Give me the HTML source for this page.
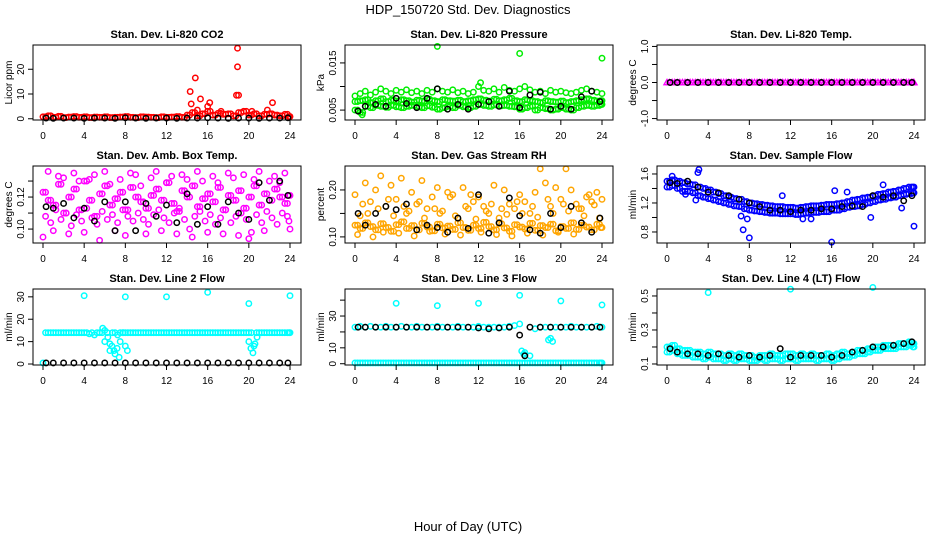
<!DOCTYPE html>
<html><head><meta charset="utf-8"><style>
body{margin:0;background:#fff;}
svg{display:block;font-family:"Liberation Sans",sans-serif;}
</style></head><body>
<svg id="c" width="936" height="540">
<text x="468" y="14" text-anchor="middle" font-size="13">HDP_150720  Std. Dev. Diagnostics</text>
<text x="468" y="531" text-anchor="middle" font-size="13">Hour of Day (UTC)</text>
</svg>
<script>
const H=[0,0.5,1,1.5,2,2.5,3,3.5,4,4.5,5,5.5,6,6.5,7,7.5,8,8.5,9,9.5,10,10.5,11,11.5,12,12.5,13,13.5,14,14.5,15,15.5,16,16.5,17,17.5,18,18.5,19,19.5,20,20.5,21,21.5,22,22.5,23,23.5,24];
const H2=[0.25,0.75,1.25,1.75,2.25,2.75,3.25,3.75,4.25,4.75,5.25,5.75,6.25,6.75,7.25,7.75,8.25,8.75,9.25,9.75,10.25,10.75,11.25,11.75,12.25,12.75,13.25,13.75,14.25,14.75,15.25,15.75,16.25,16.75,17.25,17.75,18.25,18.75,19.25,19.75,20.25,20.75,21.25,21.75,22.25,22.75,23.25,23.75,23.9];
const H1=[0.3,1,2,3,4,5,6,7,8,9,10,11,12,13,14,15,16,17,18,19,20,21,22,23,23.8];
const xTicks=[0,4,8,12,16,20,24];

const co2Red=[0.8,1.2,0.6,1.0,0.5,0.7,0.9,0.6,0.8,0.5,0.7,0.6,0.8,0.5,0.6,0.7,0.9,0.6,0.5,0.8,0.7,0.6,0.5,0.8,0.6,0.7,0.9,0.6,1.5,2.5,1.2,2.0,3.0,1.5,2.2,1.8,2.0,1.2,2.5,3.0,1.5,2.0,1.2,1.8,2.0,1.5,1.2,1.8,0.9];
const co2OutH=[14.3,14.4,14.8,15.0,15.3,16.0,16.2,17.3,18.8,18.9,18.9,19.0,20.3,21.8,22.3];
const co2OutV=[11,6,16.5,3.5,8,5,6.5,3,9.5,28.5,21,9.5,3,3.5,6.5];
const co2Black=[0.3,0.2,0.3,0.3,0.2,0.3,0.3,0.2,0.4,0.3,0.2,0.3,0.3,0.2,0.3,0.3,0.4,0.3,0.2,0.3,0.3,0.2,0.3,0.3,0.4];

const presUp=[.0080,.0085,.0090,.0082,.0088,.0095,.0090,.0085,.0092,.0088,.0093,.0087,.0090,.0085,.0092,.0088,.0095,.0090,.0088,.0093,.0087,.0090,.0085,.0088,.0100,.0092,.0090,.0095,.0088,.0098,.0092,.0090,.0095,.0100,.0093,.0088,.0090,.0085,.0092,.0088,.0090,.0087,.0085,.0088,.0092,.0095,.0090,.0088,.0085];
const presMid=[.0068,.0070,.0072,.0066,.0070,.0074,.0068,.0071,.0069,.0072,.0070,.0067,.0071,.0069,.0073,.0070,.0068,.0072,.0070,.0069,.0071,.0068,.0070,.0072,.0074,.0071,.0069,.0073,.0070,.0072,.0075,.0070,.0068,.0072,.0070,.0068,.0066,.0070,.0068,.0067,.0069,.0066,.0068,.0070,.0072,.0074,.0071,.0069,.0070];
const presLow=[.0050,.0045,.0058,.0055,.0060,.0058,.0056,.0060,.0057,.0055,.0058,.0060,.0057,.0055,.0059,.0056,.0052,.0055,.0058,.0055,.0060,.0057,.0055,.0058,.0062,.0060,.0058,.0061,.0059,.0060,.0058,.0057,.0052,.0055,.0058,.0050,.0055,.0053,.0050,.0052,.0055,.0052,.0050,.0055,.0058,.0060,.0058,.0060,.0062];
const presOutH=[0.7,8,12.2,16,24];
const presOutV=[.0040,.0185,.0108,.0170,.0160];
const presBlack=[.0048,.0058,.0062,.0058,.0075,.0064,.0055,.0075,.0095,.0052,.0062,.0052,.0062,.0068,.0058,.0090,.0055,.0082,.0088,.0052,.0058,.0052,.0078,.0090,.0068];

const tempMag=[0,0,0,0,0,0,0,0,0,0,0,0,0,0,0,0,0,0,0,0,0,0,0,0,0,0,0,0,0,0,0,0,0,0,0,0,0,0,0,0,0,0,0,0,0,0,0,0,0];
const tempBlack=[0,0,0,0,0,0,0,0,0,0,0,0,0,0,0,0,0,0,0,0,0,0,0,0,0];

const btA=[.123,.118,.115,.128,.110,.120,.125,.112,.130,.118,.108,.122,.127,.115,.119,.123,.112,.126,.120,.117,.113,.121,.125,.118,.129,.116,.111,.124,.120,.127,.114,.119,.122,.117,.126,.112,.121,.118,.124,.113,.120,.127,.115,.122,.118,.125,.120,.116,.121];
const btB=[.108,.104,.112,.106,.110,.102,.109,.105,.113,.107,.103,.111,.106,.109,.104,.112,.108,.105,.110,.106,.103,.109,.112,.107,.104,.110,.113,.106,.100,.108,.111,.105,.109,.103,.107,.112,.104,.108,.110,.106,.098,.109,.104,.111,.107,.103,.110,.108,.105];
const btC=[.095,.136,.099,.133,.132,.097,.135,.130,.098,.131,.134,.093,.136,.128,.099,.131,.096,.135,.134,.127,.097,.132,.136,.099,.129,.133,.097,.134,.131,.095,.136,.130,.098,.133,.129,.097,.135,.132,.096,.134,.094,.131,.136,.099,.130,.133,.129,.135,.100];
const btBlack=[.114,.113,.116,.107,.113,.105,.117,.099,.117,.099,.116,.108,.115,.104,.122,.103,.114,.103,.117,.110,.106,.129,.118,.130,.121];

const rhA=[.125,.118,.130,.122,.115,.128,.120,.112,.126,.132,.118,.124,.115,.129,.121,.113,.127,.119,.123,.116,.130,.120,.114,.125,.118,.131,.122,.115,.128,.119,.112,.126,.121,.117,.129,.114,.124,.120,.127,.113,.122,.118,.130,.116,.125,.121,.115,.127,.120];
const rhB=[.105,.170,.150,.100,.160,.110,.180,.145,.108,.165,.155,.102,.175,.140,.112,.160,.150,.106,.185,.145,.104,.165,.190,.138,.110,.155,.170,.105,.160,.148,.102,.175,.150,.108,.165,.142,.104,.180,.150,.110,.170,.155,.106,.160,.145,.190,.168,.140,.120];
const rhC=[.190,.145,.215,.175,.200,.230,.165,.210,.180,.225,.150,.195,.170,.220,.160,.185,.205,.155,.195,.190,.140,.205,.160,.175,.185,.165,.150,.210,.140,.200,.170,.160,.190,.175,.150,.195,.245,.215,.165,.205,.180,.245,.200,.170,.160,.185,.175,.195,.180];
const rhBlack=[.150,.125,.150,.165,.158,.170,.115,.125,.120,.110,.140,.118,.190,.108,.130,.183,.145,.115,.108,.150,.120,.165,.130,.110,.140];

const sfA=[1.50,1.52,1.50,1.48,1.46,1.45,1.42,1.40,1.38,1.35,1.33,1.30,1.28,1.26,1.25,1.22,1.20,1.19,1.18,1.17,1.16,1.15,1.15,1.14,1.14,1.13,1.14,1.15,1.16,1.16,1.17,1.18,1.18,1.19,1.20,1.22,1.24,1.25,1.27,1.28,1.30,1.32,1.33,1.35,1.36,1.38,1.40,1.42,1.42];
const sfB=[1.42,1.44,1.40,1.36,1.36,1.34,1.30,1.28,1.26,1.24,1.22,1.20,1.18,1.16,1.15,1.12,1.10,1.09,1.08,1.07,1.06,1.06,1.05,1.05,1.05,1.04,1.05,1.06,1.07,1.07,1.08,1.08,1.10,1.10,1.12,1.14,1.15,1.16,1.18,1.20,1.22,1.24,1.25,1.27,1.28,1.30,1.32,1.33,1.34];
const sfOutH=[0.5,1.8,3.0,3.1,2.8,7.2,7.4,7.8,8.0,16.0,16.3,17.5,19.8,21.0,22.8,24.0,11.2,13.2,14.0];
const sfOutV=[1.57,1.32,1.62,1.66,1.24,1.02,0.83,0.98,0.72,0.66,1.37,1.35,1.00,1.45,1.13,0.88,1.30,0.98,0.98];
const sfBlack=[1.48,1.47,1.50,1.42,1.35,1.34,1.30,1.25,1.20,1.15,1.10,1.10,1.08,1.10,1.10,1.12,1.12,1.15,1.16,1.15,1.30,1.28,1.30,1.23,1.30];

const l2A=[0.5,14,14,14,14,14,14,14,14,13.5,13,14,10,6,14,14,14,14,14,14,14,14,14,14,14,14,14,14,14,14,14,14,14,14,14,14,14,14,14,14,14,8,14,14,14,14,14,14,14];
const l2B=[14,14,14,14,14,14,14,14,14,14,14,14,14,14,13,14,14,14,14,14,14,14,14,14,14,14,14,14,14,14,14,14,14,14,14,14,14,14,14,14,14,14,14,14,14,14,14,14,14];
const l2DipH=[6.3,6.5,6.7,6.9,7.0,7.2,7.5,7.8,8.0,8.2,20.0,20.2,20.4,20.6,20.8,5.8,6.0,7.4];
const l2DipV=[12,9,8,6,4.5,7,10,14,8,6,10,7,5,9,12,16,15,3];
const l2OutH=[4,8,12,16,20,24];
const l2OutV=[30.5,30,30,32,27,30.5];
const l2Black=[0.5,0.5,0.5,0.5,0.5,0.5,0.5,0.5,0.5,0.5,0.5,0.5,0.5,0.5,0.5,0.5,0.5,0.5,0.5,0.5,0.5,0.5,0.5,0.5,0.5];

const l3Top=[23,23.5,23,23.5,23,23,23.5,23,23,23.5,23,23,23.5,23,23,23,23.5,23,23,23,23.5,23,23,23,23.5,23,23,23,23,23,23.5,24,25,7,5,22,23,23,23,23,23,23,23.5,23,23,23,23,23.5,23];
const l3Low=[0.5,0.5,0.5,0.5,0.5,0.5,0.5,0.5,0.5,0.5,0.5,0.5,0.5,0.5,0.5,0.5,0.5,0.5,0.5,0.5,0.5,0.5,0.5,0.5,0.5,0.5,0.5,0.5,0.5,0.5,0.5,0.5,0.5,0.5,0.5,0.5,0.5,0.5,0.5,0.5,0.5,0.5,0.5,0.5,0.5,0.5,0.5,0.5,0.5];
const l3ExH=[16.2,16.4,18.8,19.0,19.2];
const l3ExV=[8,6,15,16,14];
const l3OutH=[4,8,12,16,20,24];
const l3OutV=[38,36.5,38,43,39.5,37];
const l3Black=[23,23,23,23,23,23,23,23,23,23,23,23,22.5,22,22.5,23,18,23,23,23,23,23,23,23,23];
const l3BlkExH=[16.5];
const l3BlkExV=[5];

const l4A=[.20,.21,.19,.18,.18,.17,.17,.16,.17,.16,.16,.15,.16,.15,.16,.15,.15,.14,.15,.15,.16,.15,.15,.16,.16,.15,.16,.15,.16,.15,.15,.16,.15,.16,.17,.16,.17,.18,.18,.19,.20,.20,.21,.21,.21,.22,.22,.23,.22];
const l4B=[.17,.18,.16,.15,.15,.14,.14,.13,.14,.13,.13,.12,.13,.12,.13,.13,.12,.12,.13,.12,.13,.13,.12,.13,.13,.12,.13,.13,.13,.12,.13,.13,.12,.13,.14,.14,.15,.16,.16,.17,.18,.18,.19,.19,.19,.20,.20,.21,.20];
const l4OutH=[4,12,20];
const l4OutV=[.52,.54,.55];
const l4Black=[.19,.17,.16,.16,.15,.16,.15,.14,.15,.14,.15,.19,.14,.15,.15,.15,.14,.15,.17,.18,.20,.20,.21,.22,.23];

const NS='http://www.w3.org/2000/svg';
const svg=document.getElementById('c');
function mk(tag,at,par){const e=document.createElementNS(NS,tag);for(const k in at)e.setAttribute(k,at[k]);(par||svg).appendChild(e);return e;}

const colL=[33,345,657], rowT=[45,166,289], rowB=[120,243,365];
function panel(ci,ri,title,ylab,ymin,ymax,yt,ylbl,series,slug){
  const L=colL[ci],R=L+268,T=rowT[ri],B=rowB[ri];
  const g=mk('g',{});
  
  
  const x0=L+10,x1=L+257;
  const sx=h=>x0+(x1-x0)*h/24;
  const sy=v=>B-(B-T)*(v-ymin)/(ymax-ymin);
  const t=mk('text',{x:(L+R)/2,y:T-7,'text-anchor':'middle','font-size':11,'font-weight':'bold'},g);t.textContent=title;
  
  
  const yl=mk('text',{transform:`translate(${L-21},${(T+B)/2}) rotate(-90)`,'text-anchor':'middle','font-size':10},g);yl.textContent=ylab;
  
  
  series.forEach(s=>{
    const n=Math.min(s.x.length,s.y.length);
    for(let i=0;i<n;i++){
      const cx=sx(s.x[i]),cy=sy(s.y[i]);
      let m;
      if(s.tri){m=mk('path',{d:`M${cx-3},${cy+2.2}L${cx+3},${cy+2.2}L${cx},${cy-3}Z`,fill:'none',stroke:s.c,'stroke-width':1.4},g);}
      else m=mk('circle',{cx:cx,cy:cy,r:2.7,fill:'none',stroke:s.c,'stroke-width':1.5},g);
      
      
    }
  });
  const bx=mk('rect',{x:L,y:T,width:R-L,height:B-T,fill:'none',stroke:'#000','stroke-width':1},g);
  
  
  mk('line',{x1:x0,x2:x1,y1:B,y2:B,stroke:'#000'},g);
  xTicks.forEach(v=>{
    mk('line',{x1:sx(v),x2:sx(v),y1:B,y2:B+5,stroke:'#000'},g);
    const tx=mk('text',{x:sx(v),y:B+19,'text-anchor':'middle','font-size':10},g);tx.textContent=v;
    
    
  });
  yt.forEach((v,i)=>{
    mk('line',{x1:L,x2:L-5,y1:sy(v),y2:sy(v),stroke:'#000'},g);
    if(ylbl[i]!==''){
      const ty=mk('text',{transform:`translate(${L-9},${sy(v)}) rotate(-90)`,'text-anchor':'middle','font-size':10},g);ty.textContent=ylbl[i];
      
      
    }
  });
}
const red='#ff0000',blk='#000',grn='#00ee00',mag='#ff00ff',org='#ffa500',blu='#0000ff',cyn='#00ffff';
panel(0,0,'Stan. Dev. Li-820 CO2','Licor ppm',-0.5,29.8,[0,10,20],['0','10','20'],
 [{x:H,y:co2Red,c:red},{x:H2,y:co2Red,c:red},{x:co2OutH,y:co2OutV,c:red},{x:H1,y:co2Black,c:blk}],'co2');
panel(1,0,'Stan. Dev. Li-820 Pressure','kPa',0.0029,0.0188,[0.005,0.010,0.015],['0.005','','0.015'],
 [{x:H,y:presUp,c:grn},{x:H2,y:presMid,c:grn},{x:H,y:presMid,c:grn},{x:H2,y:presLow,c:grn},{x:H,y:presLow,c:grn},{x:presOutH,y:presOutV,c:grn},{x:H1,y:presBlack,c:blk}],'pressure');
panel(2,0,'Stan. Dev. Li-820 Temp.','degrees C',-1.04,1.04,[-1,-0.5,0,0.5,1],['-1.0','','0.0','','1.0'],
 [{x:H,y:tempMag,c:mag,tri:true},{x:H2,y:tempMag,c:mag,tri:true},{x:H1,y:tempBlack,c:blk}],'temp');
panel(0,1,'Stan. Dev. Amb. Box Temp.','degrees C',0.0913,0.1394,[0.10,0.11,0.12,0.13],['0.10','','0.12',''],
 [{x:H,y:btA,c:mag},{x:H2,y:btB,c:mag},{x:H,y:btC,c:mag},{x:H2,y:btA,c:mag},{x:H1,y:btBlack,c:blk}],'box-temp');
panel(1,1,'Stan. Dev. Gas Stream RH','percent',0.087,0.251,[0.10,0.15,0.20],['0.10','','0.20'],
 [{x:H,y:rhA,c:org},{x:H2,y:rhA,c:org},{x:H2,y:rhB,c:org},{x:H,y:rhC,c:org},{x:H1,y:rhBlack,c:blk}],'rh');
panel(2,1,'Stan. Dev. Sample Flow','ml/min',0.648,1.71,[0.8,1.0,1.2,1.4,1.6],['0.8','','1.2','','1.6'],
 [{x:H,y:sfA,c:blu},{x:H2,y:sfA,c:blu},{x:H,y:sfB,c:blu},{x:H2,y:sfB,c:blu},{x:sfOutH,y:sfOutV,c:blu},{x:H1,y:sfBlack,c:blk}],'sample-flow');
panel(0,2,'Stan. Dev. Line 2 Flow','ml/min',-0.44,33.5,[0,10,20,30],['0','10','20','30'],
 [{x:H,y:l2A,c:cyn},{x:H2,y:l2B,c:cyn},{x:l2DipH,y:l2DipV,c:cyn},{x:l2OutH,y:l2OutV,c:cyn},{x:H1,y:l2Black,c:blk}],'line2-flow');
panel(1,2,'Stan. Dev. Line 3 Flow','ml/min',-0.8,47,[0,10,20,30,40],['0','10','','30',''],
 [{x:H,y:l3Top,c:cyn},{x:H,y:l3Low,c:cyn},{x:H2,y:l3Low,c:cyn},{x:l3ExH,y:l3ExV,c:cyn},{x:l3OutH,y:l3OutV,c:cyn},{x:H1,y:l3Black,c:blk},{x:l3BlkExH,y:l3BlkExV,c:blk}],'line3-flow');
panel(2,2,'Stan. Dev. Line 4 (LT) Flow','ml/min',0.094,0.541,[0.1,0.2,0.3,0.4,0.5],['0.1','','0.3','','0.5'],
 [{x:H,y:l4A,c:cyn},{x:H2,y:l4A,c:cyn},{x:H,y:l4B,c:cyn},{x:H2,y:l4B,c:cyn},{x:l4OutH,y:l4OutV,c:cyn},{x:H1,y:l4Black,c:blk}],'line4-flow');
</script>
</body></html>
